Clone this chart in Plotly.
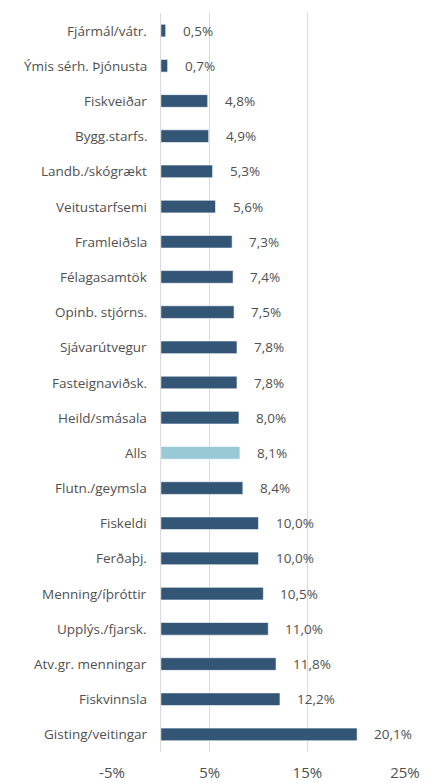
import plotly.graph_objects as go

categories = ["Fjármál/vátr.", "Ýmis sérh. Þjónusta", "Fiskveiðar", "Bygg.starfs.",
              "Landb./skógrækt", "Veitustarfsemi", "Framleiðsla", "Félagasamtök",
              "Opinb. stjórns.", "Sjávarútvegur", "Fasteignaviðsk.", "Heild/smásala",
              "Alls", "Flutn./geymsla", "Fiskeldi", "Ferðaþj.", "Menning/íþróttir",
              "Upplýs./fjarsk.", "Atv.gr. menningar", "Fiskvinnsla", "Gisting/veitingar"]
values = [0.5, 0.7, 4.8, 4.9, 5.3, 5.6, 7.3, 7.4, 7.5, 7.8, 7.8, 8.0,
          8.1, 8.4, 10.0, 10.0, 10.5, 11.0, 11.8, 12.2, 20.1]
tick_vals = [-5, 5, 15, 25]
tick_text = ["-5%", "5%", "15%", "25%"]

DARK = "#335677"
LIGHT = "#98C9D4"
colors = [LIGHT if c == "Alls" else DARK for c in categories]
FONT = "Open Sans"
GREY = "#505050"

fig = go.Figure()
fig.add_trace(go.Bar(
    x=values, y=categories, orientation="h",
    marker=dict(color=colors, line=dict(color="rgba(255,255,255,0.6)", width=1)),
    width=0.36, hoverinfo="skip"))

annotations = []
for c, v in zip(categories, values):
    annotations.append(dict(x=v, y=c, xref="x", yref="y", text=f"{v:.1f}%".replace(".", ","),
                            showarrow=False, xanchor="left", xshift=15,
                            font=dict(family=FONT, size=13.5, color=GREY)))
    annotations.append(dict(x=0, y=c, xref="x", yref="y", text=c,
                            showarrow=False, xanchor="right", xshift=-12,
                            font=dict(family=FONT, size=13.5, color=GREY)))

# the page body adds an 8px offset, so the figure is 8px smaller on each axis
fig.update_layout(
    width=427, height=775,
    margin=dict(l=104, r=30, t=5, b=31, autoexpand=False),
    paper_bgcolor="white", plot_bgcolor="white",
    showlegend=False,
    annotations=annotations,
    xaxis=dict(range=[-5, 25], tickvals=tick_vals, ticktext=tick_text,
               showgrid=True, gridcolor="#D9D9D9", gridwidth=1,
               zeroline=True, zerolinecolor="#D9D9D9", zerolinewidth=1,
               ticks="outside", ticklen=7, tickcolor="rgba(0,0,0,0)",
               tickfont=dict(family=FONT, size=15, color=GREY),
               showline=False, fixedrange=True, automargin=False),
    yaxis=dict(autorange="reversed", showticklabels=False, showgrid=False,
               zeroline=False, showline=False, fixedrange=True, automargin=False),
)
fig.write_html("out.html")
